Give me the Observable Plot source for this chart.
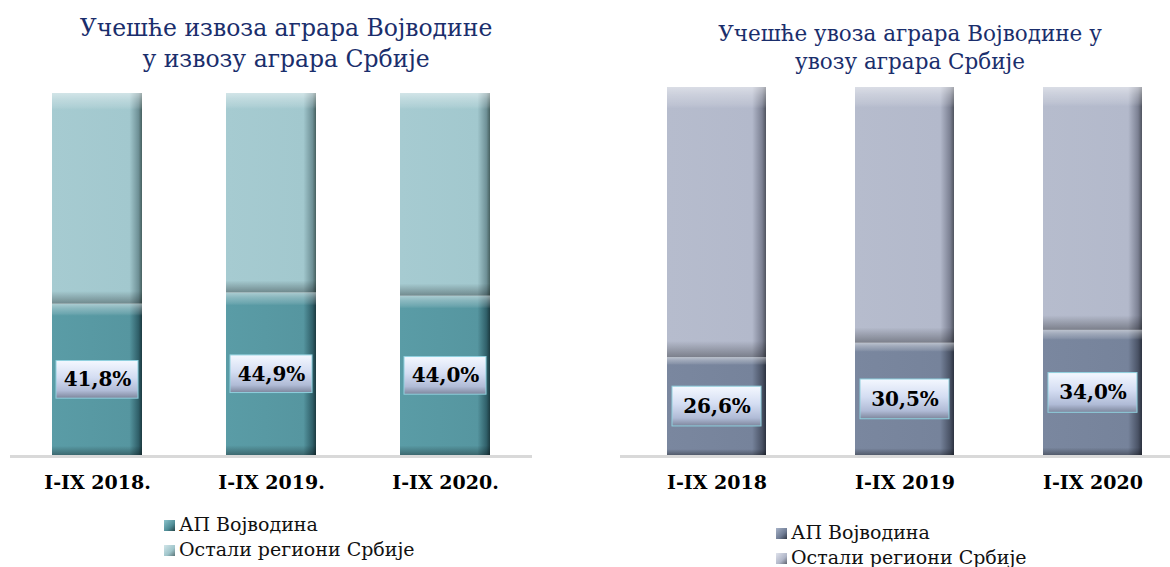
<!DOCTYPE html>
<html><head><meta charset="utf-8">
<script src="https://cdn.jsdelivr.net/npm/d3@7"></script>
<script src="https://cdn.jsdelivr.net/npm/@observablehq/plot@0.6"></script>
<style>
body{margin:0;width:1170px;height:567px;overflow:hidden;background:#fff;font-family:"DejaVu Serif",serif;position:relative}
.title{position:absolute;text-align:center;color:#1a2e6c;white-space:nowrap}
.legend{position:absolute;font-size:19px;color:#111;line-height:25px;white-space:nowrap}
.sw{display:inline-block;width:11px;height:11px;margin-right:4px;vertical-align:0px}
.chart{position:absolute}
.chart svg{max-width:none !important}
</style></head><body>
<svg width="0" height="0" style="position:absolute">
<defs>
<linearGradient id="tealDark" x1="0" x2="1" y1="0" y2="0">
<stop offset="0" stop-color="#5a9ca6"/><stop offset="0.86" stop-color="#5696a0"/><stop offset="0.96" stop-color="#30606a"/><stop offset="1" stop-color="#1c3a40"/></linearGradient>
<linearGradient id="tealLight" x1="0" x2="1" y1="0" y2="0">
<stop offset="0" stop-color="#a6cbd1"/><stop offset="0.86" stop-color="#a2c8ce"/><stop offset="0.96" stop-color="#6f9197"/><stop offset="1" stop-color="#47605f"/></linearGradient>
<linearGradient id="slateDark" x1="0" x2="1" y1="0" y2="0">
<stop offset="0" stop-color="#7a879f"/><stop offset="0.86" stop-color="#76839b"/><stop offset="0.96" stop-color="#4a5366"/><stop offset="1" stop-color="#2c3240"/></linearGradient>
<linearGradient id="slateLight" x1="0" x2="1" y1="0" y2="0">
<stop offset="0" stop-color="#b6bccd"/><stop offset="0.86" stop-color="#b3b9cb"/><stop offset="0.96" stop-color="#7c8193"/><stop offset="1" stop-color="#50545f"/></linearGradient>
<linearGradient id="bevel" x1="0" x2="0" y1="0" y2="1">
<stop offset="0" stop-color="#ffffff" stop-opacity="0.5"/><stop offset="0.03" stop-color="#ffffff" stop-opacity="0.3"/><stop offset="0.065" stop-color="#ffffff" stop-opacity="0.12"/><stop offset="0.08" stop-color="#ffffff" stop-opacity="0"/><stop offset="0.94" stop-color="#000000" stop-opacity="0"/><stop offset="0.97" stop-color="#000000" stop-opacity="0.16"/><stop offset="1" stop-color="#000000" stop-opacity="0.32"/></linearGradient>
<linearGradient id="box" x1="0" x2="0" y1="0" y2="1">
<stop offset="0" stop-color="#f4f8ff"/><stop offset="0.45" stop-color="#d4ddf2"/><stop offset="0.8" stop-color="#b0bbd6"/><stop offset="1" stop-color="#7d869c"/></linearGradient>
</defs></svg>

<div class="title" style="left:0;width:572px;top:13px;font-size:23.5px;line-height:31px">Учешће извоза аграра Војводине<br>у извозу аграра Србије</div>
<div class="title" style="left:650px;width:520px;top:20px;font-size:21.5px;line-height:28px">Учешће увоза аграра Војводине у<br>увозу аграра Србије</div>
<div id="left" class="chart" style="left:10px;top:85px;width:522px"></div>
<div id="right" class="chart" style="left:620px;top:80px;width:568px"></div>
<div class="legend" style="left:164px;top:512px">
<div><span class="sw" style="background:linear-gradient(135deg,#8cc3cb,#4f8d97 60%,#244448)"></span>АП Војводина</div>
<div><span class="sw" style="background:linear-gradient(135deg,#d2e6e9,#9ec4ca 60%,#5a7477)"></span>Остали региони Србије</div>
</div>
<div class="legend" style="left:776px;top:520px">
<div><span class="sw" style="background:linear-gradient(135deg,#a8b3c8,#6f7c94 60%,#333a48)"></span>АП Војводина</div>
<div><span class="sw" style="background:linear-gradient(135deg,#e0e3ec,#b0b6c8 60%,#60646f)"></span>Остали региони Србије</div>
</div>

<script>
const seriesNames = ["АП Војводина", "Остали региони Србије"];
const periodsExport = ["I-IX 2018.", "I-IX 2019.", "I-IX 2020."];
const vojvodinaExport = [41.8, 44.9, 44.0];
const periodsImport = ["I-IX 2018", "I-IX 2019", "I-IX 2020"];
const vojvodinaImport = [26.6, 30.5, 34.0];

const fmt = v => v.toFixed(1).replace(".", ",") + "%";

function chart(periods, values, darkFill, lightFill, opts) {
  const rows = [];
  periods.forEach((p, i) => {
    rows.push({period: p, series: seriesNames[0], y1: 0, y2: values[i]});
    rows.push({period: p, series: seriesNames[1], y1: values[i], y2: 100});
  });
  const labels = periods.map((p, i) => ({period: p, v: values[i]}));
  const dark = rows.filter(d => d.series === seriesNames[0]);
  const light = rows.filter(d => d.series === seriesNames[1]);
  return Plot.plot({
    width: opts.width, height: opts.height,
    marginTop: opts.marginTop, marginBottom: opts.marginBottom, marginLeft: 0, marginRight: 0,
    x: {domain: periods, paddingInner: opts.pi, paddingOuter: opts.po, axis: null},
    y: {domain: [0, 100], axis: null},
    style: {fontFamily: "DejaVu Serif", overflow: "visible", maxWidth: "none"},
    marks: [
      Plot.ruleY([0], {stroke: "#d9d9d9", strokeWidth: 3, dy: 1}),
      Plot.barY(dark, {x: "period", y1: "y1", y2: "y2", fill: darkFill}),
      Plot.barY(light, {x: "period", y1: "y1", y2: "y2", fill: lightFill}),
      Plot.barY(rows, {x: "period", y1: "y1", y2: "y2", fill: "url(#bevel)"}),
      Plot.barY(labels, {x: "period", y1: d => d.v / 2 - opts.box, y2: d => d.v / 2 + opts.box, insetLeft: opts.inset, insetRight: opts.inset, fill: "url(#box)", stroke: "#8fd0de", strokeWidth: 1}),
      Plot.text(labels, {x: "period", y: d => d.v / 2, text: d => fmt(d.v), fontSize: 20, fontWeight: "bold", fill: "#000"}),
      Plot.axisX({label: null, tickSize: 0, tickPadding: 20, fontSize: 19, fontWeight: "bold", fill: "#000"})
    ]
  });
}

document.getElementById("left").append(chart(periodsExport, vojvodinaExport, "url(#tealDark)", "url(#tealLight)",
  {width: 522, height: 420, marginTop: 8, marginBottom: 50, pi: 0.483, po: 0.241, box: 5.2, inset: 4}));
document.getElementById("right").append(chart(periodsImport, vojvodinaImport, "url(#slateDark)", "url(#slateLight)",
  {width: 568, height: 425, marginTop: 7, marginBottom: 50, pi: 0.475, po: 0.244, box: 5.4, inset: 5}));
</script>
</body></html>
